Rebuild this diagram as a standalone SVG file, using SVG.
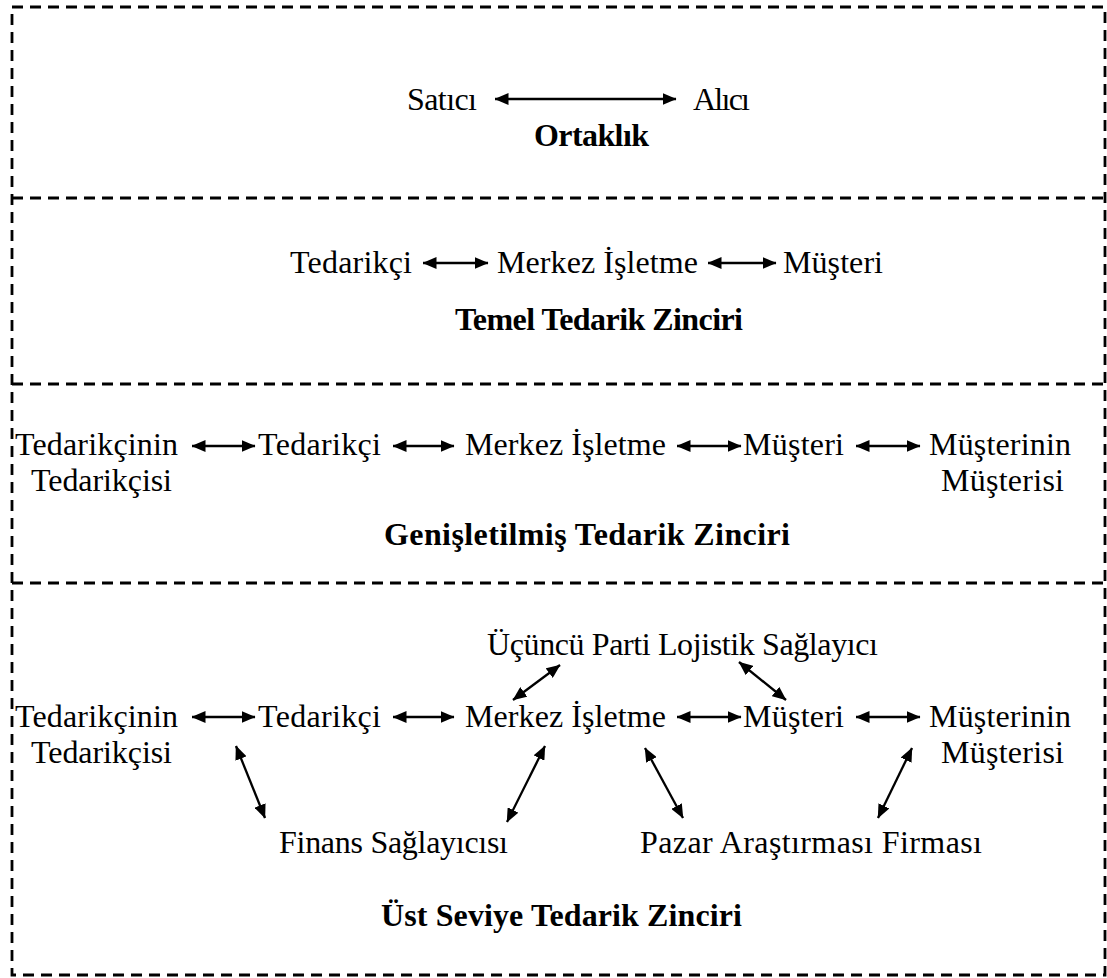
<svg xmlns="http://www.w3.org/2000/svg" width="1107" height="978" viewBox="0 0 1107 978">
  <style>
    .lbl { font-family: "Liberation Serif", "Times New Roman", serif; font-size: 32px; fill: #000; }
    .ttl { font-family: "Liberation Serif", "Times New Roman", serif; font-size: 32px; font-weight: bold; fill: #000; }
    .frame { fill: none; stroke: #000; stroke-width: 2.8; stroke-dasharray: 11 7; }
    .link { stroke: #000; stroke-width: 2.3; fill: none; marker-start: url(#ah); marker-end: url(#ah); }
    .link.wide { stroke-width: 2.7; }
  </style>
  <defs>
    <marker id="ah" viewBox="0 0 14 12" refX="13.5" refY="6" markerWidth="14" markerHeight="12" markerUnits="userSpaceOnUse" orient="auto-start-reverse">
      <path d="M0,0 L14,6 L0,12 z" fill="#000"/>
    </marker>
  </defs>
  <rect width="1107" height="978" fill="#fff"/>

  <!-- dashed panel frame -->
  <g id="frame">
    <rect class="frame" x="12" y="7" width="1093" height="968"/>
    <line class="frame" x1="12" y1="198" x2="1105" y2="198"/>
    <line class="frame" x1="12" y1="384" x2="1105" y2="384"/>
    <line class="frame" x1="12" y1="583" x2="1105" y2="583"/>
  </g>

  <!-- panel 1: partnership -->
  <g id="panel-ortaklik">
    <g id="p1-satici"><text class="lbl" x="407" y="110" textLength="70">Satıcı</text></g>
    <g id="p1-alici"><text class="lbl" x="693" y="110" textLength="57">Alıcı</text></g>
    <text class="ttl" x="534" y="146" textLength="115">Ortaklık</text>
  </g>

  <!-- panel 2: basic supply chain -->
  <g id="panel-temel">
    <g id="p2-tedarikci"><text class="lbl" x="290" y="273" textLength="122">Tedarikçi</text></g>
    <g id="p2-merkez"><text class="lbl" x="497" y="273" textLength="201">Merkez İşletme</text></g>
    <g id="p2-musteri"><text class="lbl" x="783" y="273" textLength="100">Müşteri</text></g>
    <text class="ttl" x="455" y="330" textLength="288">Temel Tedarik Zinciri</text>
  </g>

  <!-- panel 3: extended supply chain -->
  <g id="panel-genisletilmis">
    <g id="p3-ted-ted">
      <text class="lbl" x="15" y="455" textLength="163">Tedarikçinin</text>
      <text class="lbl" x="31" y="491" textLength="141">Tedarikçisi</text>
    </g>
    <g id="p3-tedarikci"><text class="lbl" x="258" y="455" textLength="123">Tedarikçi</text></g>
    <g id="p3-merkez"><text class="lbl" x="465" y="455" textLength="201">Merkez İşletme</text></g>
    <g id="p3-musteri"><text class="lbl" x="743" y="455" textLength="101">Müşteri</text></g>
    <g id="p3-mus-mus">
      <text class="lbl" x="929" y="455" textLength="142">Müşterinin</text>
      <text class="lbl" x="941" y="491" textLength="123">Müşterisi</text>
    </g>
    <text class="ttl" x="384" y="545" textLength="406">Genişletilmiş Tedarik Zinciri</text>
  </g>

  <!-- panel 4: ultimate supply chain -->
  <g id="panel-ust">
    <g id="p4-lojistik"><text class="lbl" x="487" y="655" textLength="391">Üçüncü Parti Lojistik Sağlayıcı</text></g>
    <g id="p4-ted-ted">
      <text class="lbl" x="15" y="727" textLength="163">Tedarikçinin</text>
      <text class="lbl" x="31" y="763" textLength="141">Tedarikçisi</text>
    </g>
    <g id="p4-tedarikci"><text class="lbl" x="258" y="727" textLength="123">Tedarikçi</text></g>
    <g id="p4-merkez"><text class="lbl" x="465" y="727" textLength="201">Merkez İşletme</text></g>
    <g id="p4-musteri"><text class="lbl" x="743" y="727" textLength="101">Müşteri</text></g>
    <g id="p4-mus-mus">
      <text class="lbl" x="929" y="727" textLength="142">Müşterinin</text>
      <text class="lbl" x="941" y="763" textLength="123">Müşterisi</text>
    </g>
    <g id="p4-finans"><text class="lbl" x="279" y="853" textLength="229">Finans Sağlayıcısı</text></g>
    <g id="p4-pazar"><text class="lbl" x="640" y="853" textLength="342">Pazar Araştırması Firması</text></g>
    <text class="ttl" x="381" y="926" textLength="361">Üst Seviye Tedarik Zinciri</text>
  </g>

  <!-- two-way connectors -->
  <g id="connectors">
    <line class="link wide" x1="495" y1="99" x2="676" y2="99"/>

    <line class="link" x1="423" y1="263" x2="488" y2="263"/>
    <line class="link" x1="708" y1="263" x2="776" y2="263"/>

    <line class="link" x1="192" y1="446" x2="255" y2="446"/>
    <line class="link" x1="393" y1="446" x2="454" y2="446"/>
    <line class="link" x1="677" y1="446" x2="741" y2="446"/>
    <line class="link" x1="856" y1="446" x2="920" y2="446"/>

    <line class="link" x1="192" y1="717" x2="255" y2="717"/>
    <line class="link" x1="393" y1="717" x2="454" y2="717"/>
    <line class="link" x1="677" y1="717" x2="741" y2="717"/>
    <line class="link" x1="856" y1="717" x2="920" y2="717"/>

    <line class="link" x1="513" y1="700" x2="560" y2="665"/>
    <line class="link" x1="739" y1="662" x2="786" y2="700"/>
    <line class="link" x1="236" y1="746" x2="265" y2="818"/>
    <line class="link" x1="545" y1="746" x2="507" y2="822"/>
    <line class="link" x1="645" y1="748" x2="683" y2="818"/>
    <line class="link" x1="912" y1="748" x2="878" y2="818"/>
  </g>
</svg>
